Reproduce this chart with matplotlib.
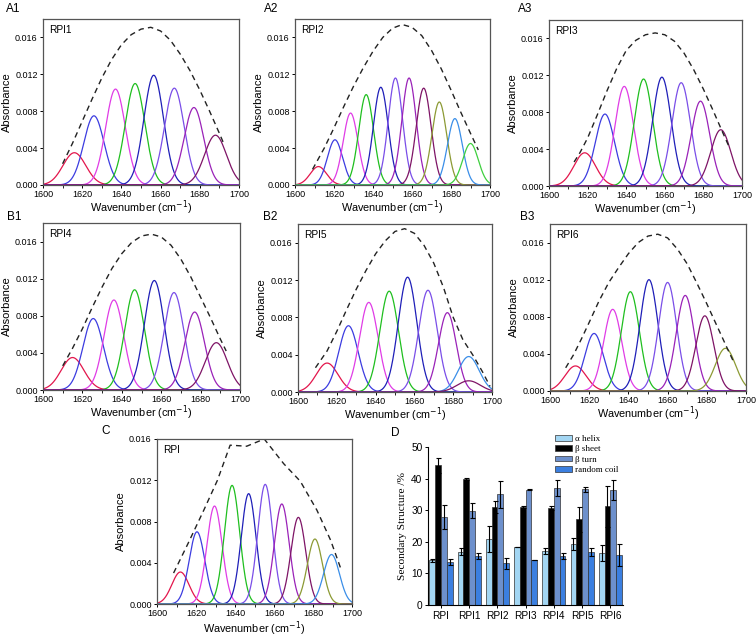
import numpy as np
import matplotlib
matplotlib.use("Agg")
import matplotlib.pyplot as plt
from matplotlib.ticker import MultipleLocator

plt.rcParams['font.family'] = ['Liberation Sans', 'DejaVu Sans']

W, H = 756, 638

# colour names for components
RED, BLUE, MAG, GRN, NAVY, VIO, PUR, WINE, OLIVE, LBLUE, GRN2 = (
    '#e3164c', '#3c3ce0', '#e03ce6', '#1fbf1f', '#1f1fb8', '#7a4ee8',
    '#9a22b8', '#7e1466', '#8c9a34', '#3a8ee8', '#3fcf3f')

# ---------------- spectra panels: component parameters ----------------
# RPI1 (A1)
a1_cen = [1616, 1626, 1637, 1647, 1656.5, 1667, 1677, 1688]
a1_hgt = [0.0035, 0.0075, 0.0104, 0.0110, 0.0119, 0.0105, 0.0084, 0.0054]
a1_sig = [5.8, 5.2, 5.0, 5.0, 5.0, 5.0, 5.0, 5.6]
a1_col = [RED, BLUE, MAG, GRN, NAVY, VIO, PUR, WINE]
a1_env_x = [1610, 1615, 1620, 1625, 1630, 1635, 1640, 1645, 1650, 1655, 1660, 1665, 1670, 1675, 1680, 1685, 1690, 1692]
a1_env_y = [0.0023, 0.0045, 0.0069, 0.0093, 0.0116, 0.0136, 0.0152, 0.0163, 0.0169, 0.0171, 0.0167, 0.0157, 0.0142, 0.0124, 0.0103, 0.0080, 0.0056, 0.0046]

# RPI2 (A2)
a2_cen = [1612, 1620.5, 1628.5, 1636.5, 1644, 1651.5, 1658.5, 1666, 1674, 1682, 1690]
a2_hgt = [0.0020, 0.0049, 0.0078, 0.0098, 0.0106, 0.0116, 0.0116, 0.0105, 0.0090, 0.0072, 0.0045]
a2_sig = [4.2, 3.9, 3.8, 3.8, 3.8, 3.7, 3.7, 3.8, 3.8, 3.8, 4.0]
a2_col = [RED, BLUE, MAG, GRN, NAVY, VIO, PUR, WINE, OLIVE, LBLUE, GRN2]
a2_env_x = [1609, 1615, 1620, 1625, 1630, 1635, 1640, 1645, 1650, 1655, 1660, 1665, 1670, 1675, 1680, 1685, 1690, 1694]
a2_env_y = [0.0017, 0.0040, 0.0062, 0.0085, 0.0107, 0.0127, 0.0145, 0.0160, 0.0170, 0.0174, 0.0171, 0.0162, 0.0146, 0.0126, 0.0103, 0.0079, 0.0056, 0.0038]

# RPI3 (A3)
a3_cen = [1618.5, 1629, 1639, 1649, 1658.5, 1668.5, 1678.5, 1689]
a3_hgt = [0.0036, 0.0078, 0.0108, 0.0116, 0.0118, 0.0112, 0.0092, 0.0061]
a3_sig = [5.6, 5.0, 4.8, 4.8, 4.8, 4.8, 4.8, 5.2]
a3_col = [RED, BLUE, MAG, GRN, NAVY, VIO, PUR, WINE]
a3_env_x = [1613, 1616, 1620, 1625, 1630, 1635, 1640, 1645, 1650, 1655, 1660, 1665, 1670, 1675, 1680, 1685, 1690, 1693]
a3_env_y = [0.0026, 0.0036, 0.0052, 0.0077, 0.0103, 0.0127, 0.0147, 0.0158, 0.0164, 0.0166, 0.0164, 0.0157, 0.0144, 0.0126, 0.0105, 0.0082, 0.0058, 0.0044]

# RPI4 (B1)
b1_cen = [1615, 1625.5, 1636, 1646.5, 1656.5, 1666.5, 1677, 1688]
b1_hgt = [0.0035, 0.0077, 0.0097, 0.0108, 0.0118, 0.0105, 0.0084, 0.0051]
b1_sig = [5.8, 5.2, 5.0, 5.0, 5.0, 5.0, 5.0, 5.6]
b1_col = [RED, BLUE, MAG, GRN, NAVY, VIO, PUR, WINE]
b1_env_x = [1610, 1615, 1620, 1625, 1630, 1635, 1640, 1645, 1650, 1655, 1660, 1665, 1670, 1675, 1680, 1685, 1690, 1693]
b1_env_y = [0.0026, 0.0045, 0.0066, 0.0089, 0.0111, 0.0131, 0.0147, 0.0159, 0.0166, 0.0168, 0.0165, 0.0156, 0.0141, 0.0122, 0.0100, 0.0078, 0.0055, 0.0042]

# RPI5 (B2)
b2_cen = [1615, 1626, 1636.5, 1647, 1656.5, 1667, 1677, 1688, 1688]
b2_hgt = [0.0031, 0.0071, 0.0096, 0.0108, 0.0123, 0.0109, 0.0085, 0.0038, 0.0012]
b2_sig = [5.6, 5.0, 4.8, 4.8, 4.8, 4.8, 4.6, 5.4, 6.0]
b2_col = [RED, BLUE, MAG, GRN, NAVY, VIO, PUR, LBLUE, WINE]
b2_env_x = [1609, 1615, 1620, 1625, 1630, 1635, 1640, 1645, 1650, 1655, 1660, 1665, 1670, 1675, 1680, 1685, 1690, 1695, 1699]
b2_env_y = [0.0026, 0.0044, 0.0065, 0.0088, 0.0110, 0.0130, 0.0148, 0.0162, 0.0172, 0.0175, 0.0170, 0.0157, 0.0138, 0.0112, 0.0080, 0.0056, 0.0040, 0.0022, 0.0006]

# RPI6 (B3)
b3_cen = [1613, 1622.5, 1632, 1641, 1650.5, 1660, 1669, 1679, 1689.5]
b3_hgt = [0.0027, 0.0062, 0.0088, 0.0107, 0.0120, 0.0117, 0.0103, 0.0081, 0.0046]
b3_sig = [5.4, 4.8, 4.6, 4.6, 4.6, 4.6, 4.6, 4.6, 5.2]
b3_col = [RED, BLUE, MAG, GRN, NAVY, VIO, PUR, WINE, OLIVE]
b3_env_x = [1608, 1612, 1616, 1620, 1625, 1630, 1635, 1640, 1645, 1650, 1655, 1660, 1665, 1670, 1675, 1680, 1685, 1690, 1694]
b3_env_y = [0.0025, 0.0039, 0.0056, 0.0074, 0.0097, 0.0117, 0.0133, 0.0148, 0.0160, 0.0167, 0.0169, 0.0165, 0.0153, 0.0137, 0.0116, 0.0094, 0.0071, 0.0048, 0.0030]

# RPI (C)
c_cen = [1612, 1620.5, 1629.5, 1638.5, 1647, 1655.5, 1664, 1672.5, 1681, 1689.5]
c_hgt = [0.0031, 0.0070, 0.0095, 0.0115, 0.0107, 0.0116, 0.0097, 0.0084, 0.0063, 0.0048]
c_sig = [4.4, 4.0, 3.9, 3.9, 3.8, 3.8, 3.8, 3.8, 3.9, 4.1]
c_col = [RED, BLUE, MAG, GRN, NAVY, VIO, PUR, WINE, OLIVE, LBLUE]
c_env_x = [1608.5, 1616, 1624, 1631, 1637.5, 1646, 1655, 1665, 1673.5, 1682, 1689, 1694.5]
c_env_y = [0.0030, 0.0059, 0.0091, 0.0120, 0.0154, 0.0153, 0.0160, 0.0136, 0.0119, 0.0091, 0.0062, 0.0033]

# ---------------- bar chart (D) ----------------
samples = ['RPI', 'RPI1', 'RPI2', 'RPI3', 'RPI4', 'RPI5', 'RPI6']
structures = ['\u03b1 helix', '\u03b2 sheet', '\u03b2 turn', 'random coil']
alpha_helix = [14.1, 16.8, 20.9, 18.3, 17.0, 19.2, 16.4]
alpha_err = [0.4, 1.1, 4.1, 0.1, 0.9, 1.9, 2.6]
beta_sheet = [44.2, 39.9, 31.0, 31.0, 30.6, 27.1, 31.3]
sheet_err = [2.4, 0.2, 2.0, 0.2, 0.6, 4.0, 6.5]
beta_turn = [28.0, 29.9, 35.0, 36.5, 37.0, 36.7, 36.5]
turn_err = [3.8, 2.3, 4.3, 0.1, 2.6, 0.8, 3.2]
random_coil = [13.5, 15.4, 13.2, 14.2, 15.4, 16.8, 15.8]
coil_err = [0.9, 1.0, 1.8, 0.1, 1.0, 1.3, 3.4]
bar_colors = ['#a3d6f3', '#000000', '#6d90cc', '#3b7fe0']

SERIF = ['Liberation Serif', 'DejaVu Serif']


def ax_px(fig, x0, y0, x1, y1):
    return fig.add_axes([x0 / W, 1 - y1 / H, (x1 - x0) / W, (y1 - y0) / H])


fig = plt.figure(figsize=(W / 100, H / 100), dpi=100)
xx = np.linspace(1600, 1700, 801)

panels = [
    ('A1', 'RPI1', (43, 19, 239, 185), a1_cen, a1_hgt, a1_sig, a1_col, a1_env_x, a1_env_y, 0.018, (6, 9), 211.5),
    ('A2', 'RPI2', (295, 19, 490, 185), a2_cen, a2_hgt, a2_sig, a2_col, a2_env_x, a2_env_y, 0.018, (264, 9), 211.5),
    ('A3', 'RPI3', (549, 20, 742, 186), a3_cen, a3_hgt, a3_sig, a3_col, a3_env_x, a3_env_y, 0.018, (518, 9), 212.5),
    ('B1', 'RPI4', (43, 223, 240, 390), b1_cen, b1_hgt, b1_sig, b1_col, b1_env_x, b1_env_y, 0.018, (7, 217), 417),
    ('B2', 'RPI5', (298, 224, 492, 392), b2_cen, b2_hgt, b2_sig, b2_col, b2_env_x, b2_env_y, 0.018, (263, 217), 419),
    ('B3', 'RPI6', (550, 224, 746, 391), b3_cen, b3_hgt, b3_sig, b3_col, b3_env_x, b3_env_y, 0.018, (520, 217), 418),
    ('C', 'RPI', (157, 439, 352, 604), c_cen, c_hgt, c_sig, c_col, c_env_x, c_env_y, 0.016, (101, 431), 633),
]

for lab, name, box, cen, hgt, sig, cols, ex, ey, ytop, lpos, xlab_y in panels:
    ax = ax_px(fig, *box)
    for c, h, s, col in zip(cen, hgt, sig, cols):
        ax.plot(xx, h * np.exp(-(xx - c) ** 2 / (2 * s ** 2)), color=col, lw=0.9)
    ax.plot(ex, ey, color='#222222', lw=1.0, ls=(0, (4, 3)))
    ax.set_xlim(1600, 1700)
    ax.set_ylim(0, ytop)
    ax.set_xticks(np.arange(1600, 1701, 20))
    ax.xaxis.set_minor_locator(MultipleLocator(10))
    ax.set_yticks(np.arange(0, 0.0161, 0.004))
    ax.set_yticklabels(['%.3f' % v for v in np.arange(0, 0.0161, 0.004)])
    ax.tick_params(which='major', labelsize=6.5, length=2.5, width=0.7, direction='out', pad=1.3)
    ax.tick_params(which='minor', length=1.8, width=0.6, direction='out')
    for sp in ax.spines.values():
        sp.set_color('#555555')
        sp.set_linewidth(0.9)
    ax.set_ylabel('Absorbance', fontsize=8.0, labelpad=2)
    ax.text(0.03, 0.965, name, transform=ax.transAxes, ha='left', va='top', fontsize=7.3)
    cx = (box[0] + box[2]) / 2
    fig.text(cx / W, 1 - xlab_y / H, 'Wavenumber (cm$^{-1}$)', fontsize=7.8,
             ha='center', va='baseline', zorder=10)
    fig.text(lpos[0] / W, 1 - lpos[1] / H, lab, fontsize=8.5, ha='left', va='center', zorder=10)

# ---------- D ----------
axd = ax_px(fig, 428, 447, 623, 605)
x = np.arange(len(samples))
bw = 0.205
series = [(alpha_helix, alpha_err), (beta_sheet, sheet_err), (beta_turn, turn_err), (random_coil, coil_err)]
for i, ((vals, errs), col, slab) in enumerate(zip(series, bar_colors, structures)):
    axd.bar(x + (i - 1.5) * bw, vals, bw, yerr=errs, color=col, edgecolor='#333333',
            linewidth=0.5, label=slab,
            error_kw=dict(ecolor='black', elinewidth=0.8, capsize=1.8, capthick=0.8))
axd.set_xlim(-0.46, 6.45)
axd.set_ylim(0, 50)
axd.set_xticks(x)
axd.set_xticklabels(samples)
axd.set_yticks(np.arange(0, 51, 10))
axd.tick_params(labelsize=7.3, length=2.5, width=0.7, direction='out', pad=1.5)
axd.spines['top'].set_visible(False)
axd.spines['right'].set_visible(False)
axd.set_ylabel('Secondary Structure /%', fontsize=8.2, family=SERIF, labelpad=3)
leg = axd.legend(loc='upper left', bbox_to_anchor=(555 / W, 1 - 435 / H), bbox_transform=fig.transFigure,
                 frameon=False, prop={'family': SERIF, 'size': 6.5},
                 handlelength=1.9, handleheight=0.6, labelspacing=0.25, handletextpad=0.35,
                 borderaxespad=0, borderpad=0)
fig.text(391 / W, 1 - 433 / H, 'D', fontsize=8.5, ha='left', va='center')

fig.savefig('out.png', dpi=100)
